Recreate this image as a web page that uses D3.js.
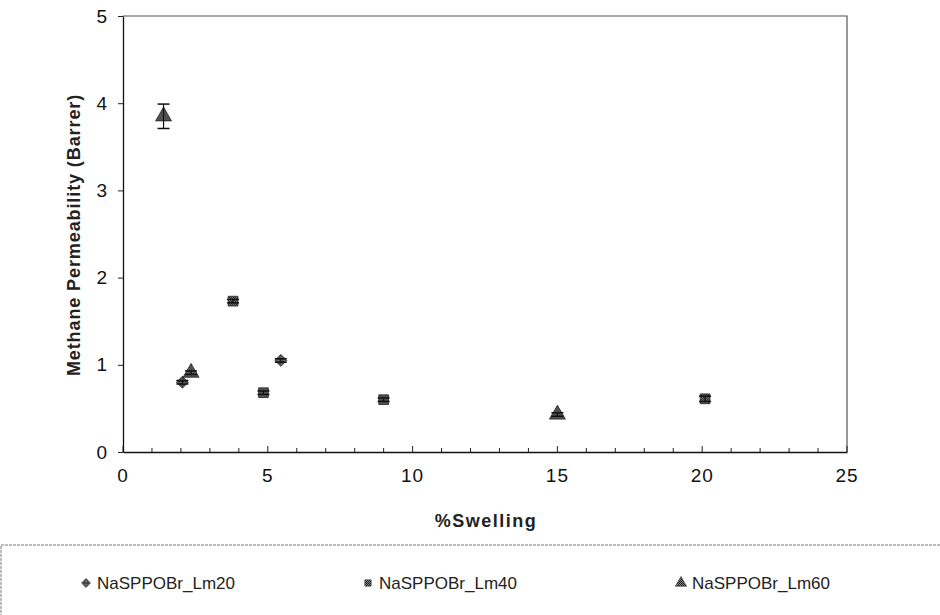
<!DOCTYPE html>
<html>
<head>
<meta charset="utf-8">
<script src="https://cdn.jsdelivr.net/npm/d3@7/dist/d3.min.js"></script>
<style>
  html, body { margin: 0; padding: 0; background: #fff; }
  svg { display: block; font-family: "Liberation Sans", Arial, sans-serif; }
</style>
</head>
<body>
<svg id="chart" width="940" height="615"></svg>
<script>
// Methane permeability versus % swelling for three membrane series
const seriesNames = ["NaSPPOBr_Lm20", "NaSPPOBr_Lm40", "NaSPPOBr_Lm60"];
const lm20Swelling = [2.05, 5.45];
const lm20Perm     = [0.80, 1.05];
const lm20Err      = [0.02, 0.02];
const lm40Swelling = [3.8, 4.85, 9.0, 20.1];
const lm40Perm     = [1.73, 0.68, 0.60, 0.61];
const lm40Err      = [0.02, 0.02, 0.02, 0.03];
const lm60Swelling = [1.4, 2.35, 15.0];
const lm60Perm     = [3.85, 0.91, 0.43];
const lm60Err      = [0.14, 0.02, 0.02];
const xTicks = [0, 5, 10, 15, 20, 25];
const yTicks = [0, 1, 2, 3, 4, 5];

const svg = d3.select("#chart");
const margin = { left: 123, right: 847, top: 16, bottom: 452 };

const x = d3.scaleLinear().domain([0, 25]).range([margin.left, margin.right]);
const y = d3.scaleLinear().domain([0, 5]).range([margin.bottom, margin.top]);

// plot frame (top and right sides)
svg.append("path")
  .attr("d", `M${margin.left},${margin.top}H${margin.right}V${margin.bottom}`)
  .attr("fill", "none").attr("stroke", "#555").attr("stroke-width", 1.2);

// x axis: major ticks every 5, minor every 1, drawn inward
const xAxisG = svg.append("g").attr("transform", `translate(0,${margin.bottom})`);
xAxisG.call(d3.axisBottom(x).tickValues(d3.range(0, 26, 1)).tickSize(0).tickFormat(""));
xAxisG.selectAll(".tick line").remove();
xAxisG.select(".domain").attr("stroke", "#111").attr("stroke-width", 1.3);
xAxisG.selectAll(".minor").data(d3.range(0, 26, 1)).join("line")
  .attr("x1", d => x(d)).attr("x2", d => x(d))
  .attr("y1", 0).attr("y2", d => d % 5 === 0 ? -6 : -4)
  .attr("stroke", "#222").attr("stroke-width", 1);
svg.append("g").selectAll("text").data(xTicks).join("text")
  .attr("x", d => x(d)).attr("y", margin.bottom + 30)
  .attr("text-anchor", "middle").attr("font-size", 19).attr("letter-spacing", 1)
  .attr("fill", "#111")
  .text(d => d);

// y axis
const yAxisG = svg.append("g").attr("transform", `translate(${margin.left},0)`);
yAxisG.call(d3.axisLeft(y).tickValues(yTicks).tickFormat(d3.format("d"))
  .tickSize(5).tickPadding(11).tickSizeOuter(0));
yAxisG.select(".domain").attr("stroke", "#111").attr("stroke-width", 1.3);
yAxisG.selectAll(".tick line").attr("stroke", "#222");
yAxisG.selectAll(".tick text").attr("font-size", 19).attr("fill", "#111")
  .attr("font-family", "Liberation Sans, Arial, sans-serif");

// axis titles
svg.append("text").attr("x", 486).attr("y", 527).attr("text-anchor", "middle")
  .attr("font-size", 18).attr("font-weight", "bold").attr("letter-spacing", 1.5)
  .attr("fill", "#222")
  .text("%Swelling");
svg.append("text")
  .attr("transform", `translate(80,${(margin.top + margin.bottom) / 2 + 1}) rotate(-90)`)
  .attr("text-anchor", "middle").attr("font-size", 18).attr("font-weight", "bold")
  .attr("letter-spacing", 0.9).attr("fill", "#222")
  .text("Methane Permeability (Barrer)");

// halftone-like fill for markers
const defs = svg.append("defs");
const pat = defs.append("pattern").attr("id", "dots").attr("patternUnits", "userSpaceOnUse")
  .attr("width", 2).attr("height", 2);
pat.append("rect").attr("width", 2).attr("height", 2).attr("fill", "#888");
pat.append("rect").attr("width", 1).attr("height", 1).attr("fill", "#111");
pat.append("rect").attr("x", 1).attr("y", 1).attr("width", 1).attr("height", 1).attr("fill", "#222");

// diamond drawn as a rotated square so it is as wide as it is tall
const symbols = [d3.symbolSquare, d3.symbolSquare, d3.symbolTriangle];
const rotations = [45, 0, 0];
const sizes = [70, 95, 110];
const series = [
  { xs: lm20Swelling, ys: lm20Perm, es: lm20Err },
  { xs: lm40Swelling, ys: lm40Perm, es: lm40Err },
  { xs: lm60Swelling, ys: lm60Perm, es: lm60Err }
];

series.forEach((s, i) => {
  const pts = s.xs.map((v, k) => ({ x: v, y: s.ys[k], e: s.es[k] }));
  const g = svg.append("g");
  g.selectAll("path.m").data(pts).join("path")
    .attr("class", "m")
    .attr("transform", d => `translate(${x(d.x)},${y(d.y)}) rotate(${rotations[i]})`)
    .attr("d", d3.symbol().type(symbols[i]).size(sizes[i]))
    .attr("fill", "url(#dots)").attr("stroke", "#222").attr("stroke-width", 0.8);
  // error bars
  pts.forEach(p => {
    const x0 = x(p.x), yt = y(p.y + p.e), yb = y(p.y - p.e);
    g.append("line").attr("x1", x0).attr("x2", x0).attr("y1", yt).attr("y2", yb)
      .attr("stroke", "#111").attr("stroke-width", 1.2);
    [yt, yb].forEach(yy => g.append("line").attr("x1", x0 - 6).attr("x2", x0 + 6)
      .attr("y1", yy).attr("y2", yy).attr("stroke", "#111").attr("stroke-width", 1.5));
  });
});

// legend box
svg.append("rect").attr("x", 1).attr("y", 545).attr("width", 960).attr("height", 80)
  .attr("fill", "none").attr("stroke", "#777").attr("stroke-width", 1)
  .attr("stroke-dasharray", "3,1");
const legendX = [86, 368, 681];
seriesNames.forEach((name, i) => {
  svg.append("path")
    .attr("transform", `translate(${legendX[i]},${583}) rotate(${rotations[i]})`)
    .attr("d", d3.symbol().type(symbols[i]).size(i === 2 ? 55 : 40))
    .attr("fill", "url(#dots)").attr("stroke", "#444").attr("stroke-width", 0.7);
  svg.append("text").attr("x", legendX[i] + 11).attr("y", 589)
    .attr("font-size", 17).attr("fill", "#222").text(name);
});
</script>
</body>
</html>
